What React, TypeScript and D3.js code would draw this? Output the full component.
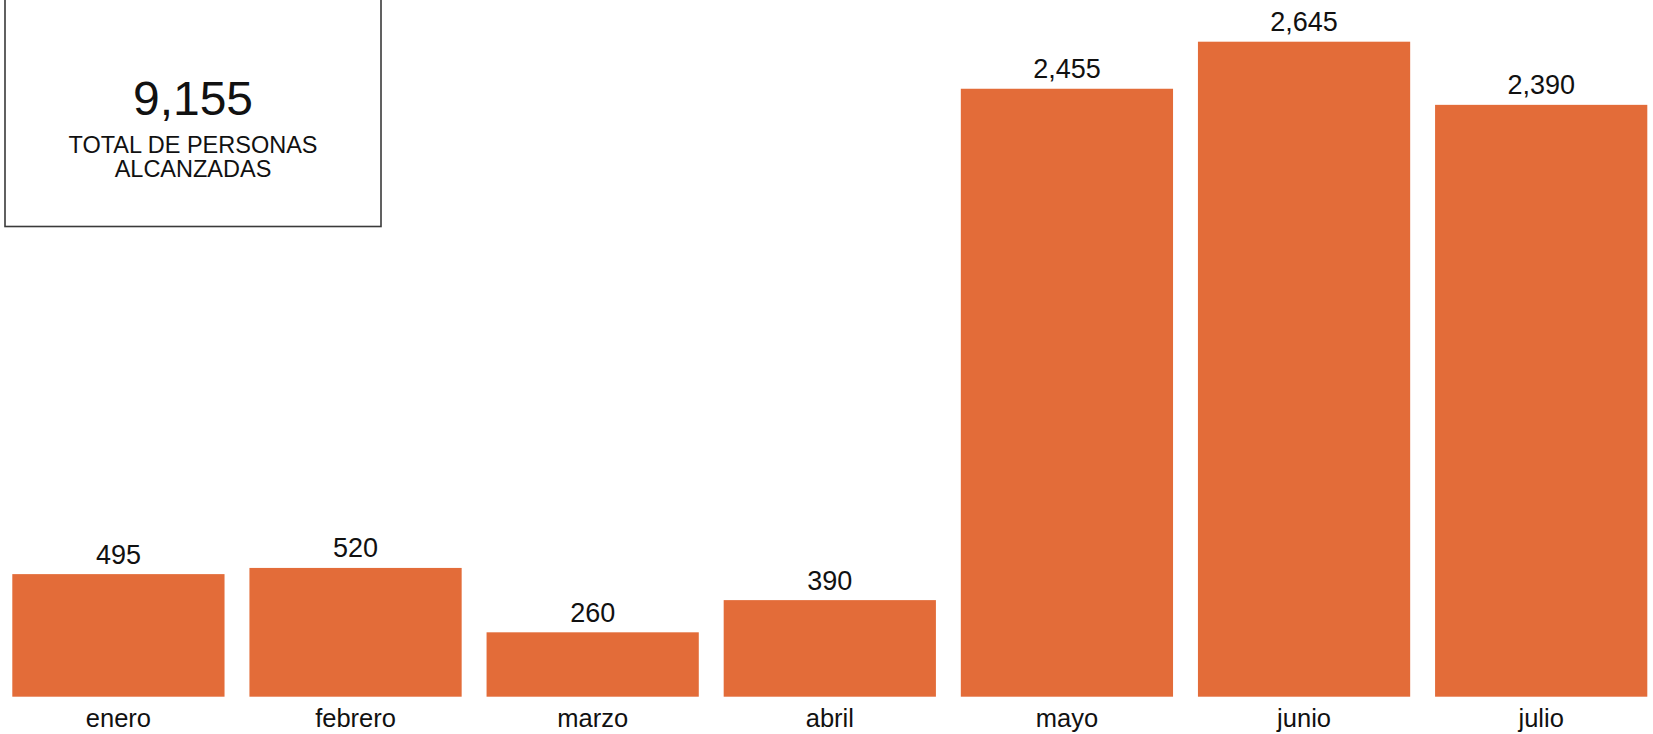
import React from "react";
import * as d3 from "d3";

const categories = ["enero", "febrero", "marzo", "abril", "mayo", "junio", "julio"];
const values = [495, 520, 260, 390, 2455, 2645, 2390];
const totalLabelLines = ["TOTAL DE PERSONAS", "ALCANZADAS"];

const W = 1653;
const H = 734;
const FONT = "'Liberation Sans', Arial, Helvetica, sans-serif";
const BAR = "#E36C39";

export default function App() {
  const x = d3.scaleBand<string>().domain(categories).range([12.3, 1647.3]).paddingInner(0.105).paddingOuter(0);
  const y = d3.scaleLinear().domain([0, d3.max(values) as number]).range([696.7, 41.7]);
  const fmt = d3.format(",");
  const total = d3.sum(values);

  return (
    <svg width={W} height={H} style={{ position: "absolute", left: 0, top: 0, display: "block" }} fontFamily={FONT}>
      <rect x={0} y={0} width={W} height={H} fill="#fff" />
      {/* summary box */}
      <rect x={5} y={-10} width={376} height={236.5} fill="#fff" stroke="#3a3a3a" strokeWidth={1.6} />
      <text x={193} y={115} textAnchor="middle" fontSize={48} fill="#111">{fmt(total)}</text>
      {totalLabelLines.map((t, i) => (
        <text key={t} x={193} y={153 + i * 23.5} textAnchor="middle" fontSize={23.5} fill="#111">{t}</text>
      ))}
      {/* bars */}
      {categories.map((c, i) => (
        <g key={c}>
          <rect x={x(c)} y={y(values[i])} width={x.bandwidth()} height={y(0) - y(values[i])} fill={BAR} />
          <text x={(x(c) as number) + x.bandwidth() / 2} y={y(values[i]) - 10.5} textAnchor="middle" fontSize={27} fill="#111">
            {fmt(values[i])}
          </text>
          <text x={(x(c) as number) + x.bandwidth() / 2} y={727} textAnchor="middle" fontSize={25.5} fill="#111">
            {c}
          </text>
        </g>
      ))}
    </svg>
  );
}
